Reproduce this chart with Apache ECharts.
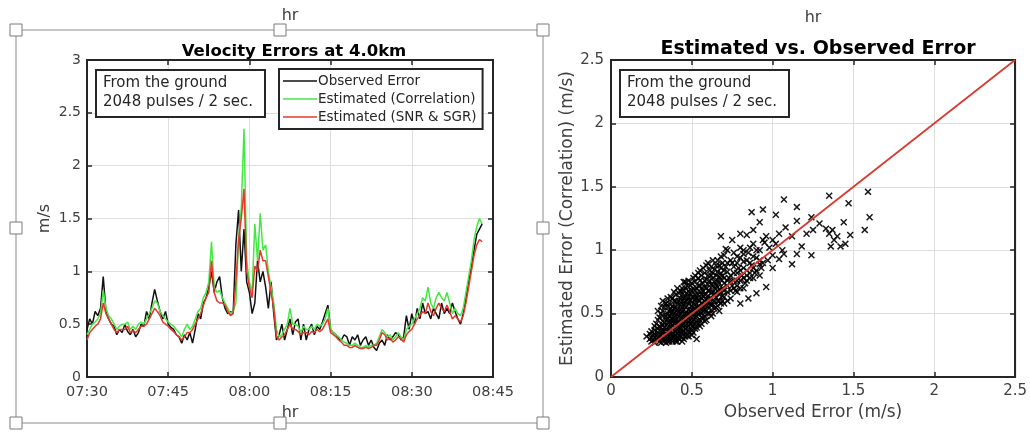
<!DOCTYPE html>
<html>
<head>
<meta charset="utf-8">
<title>Velocity Errors</title>
<script src="https://cdn.jsdelivr.net/npm/echarts@6/dist/echarts.min.js"></script>
<style>
  html, body { margin: 0; padding: 0; background: #fff; }
  #chart { width: 1030px; height: 432px; }
</style>
</head>
<body>
<div id="chart"></div>
<script>
// time labels for the left plot (minutes after 07:30, every 15)
var timeLabels = ["07:30", "07:45", "08:00", "08:15", "08:30", "08:45"];
var sampleStep = 0.5; // minutes between samples

// left plot: velocity error series (m/s), one value per half minute from 07:30
var observedError = [
  0.45, 0.55, 0.5, 0.62, 0.58, 0.65, 0.95, 0.62, 0.55, 0.5,
  0.48, 0.4, 0.45, 0.42, 0.5, 0.43, 0.4, 0.45, 0.38, 0.42,
  0.5, 0.48, 0.62, 0.55, 0.7, 0.83, 0.72, 0.62, 0.55, 0.62,
  0.5, 0.47, 0.45, 0.4, 0.38, 0.32, 0.4, 0.35, 0.42, 0.32,
  0.45, 0.6, 0.55, 0.7, 0.75, 0.85, 1.0, 0.8, 0.9, 0.95,
  0.75, 0.65, 0.6, 0.62, 0.6, 1.25, 1.58, 1.0, 1.4, 0.9,
  0.8, 0.6, 0.7, 1.1, 0.9, 1.0, 0.85, 0.65, 0.9, 0.6,
  0.35, 0.4, 0.5, 0.35, 0.45, 0.55, 0.4, 0.52, 0.55, 0.35,
  0.5, 0.35, 0.45, 0.5, 0.4, 0.48, 0.45, 0.52, 0.6, 0.68,
  0.45, 0.42, 0.4, 0.36, 0.35, 0.4, 0.38, 0.3, 0.38, 0.35,
  0.4, 0.3, 0.35, 0.38, 0.3, 0.35, 0.28, 0.25, 0.32, 0.35,
  0.3, 0.4, 0.35, 0.38, 0.42, 0.4, 0.35, 0.38, 0.58, 0.45,
  0.6, 0.5, 0.65, 0.55, 0.7, 0.6, 0.62, 0.55, 0.65, 0.6,
  0.55, 0.7, 0.6, 0.65, 0.6, 0.7, 0.62, 0.55, 0.5, 0.6,
  0.75, 0.9, 1.05, 1.2, 1.35, 1.4, 1.45
];
var estimatedCorr = [
  0.4, 0.45, 0.5, 0.52, 0.55, 0.6, 0.82, 0.65, 0.58, 0.55,
  0.5, 0.45, 0.48, 0.5, 0.5, 0.52, 0.45, 0.48, 0.45, 0.5,
  0.52, 0.5, 0.55, 0.6, 0.65, 0.72, 0.7, 0.62, 0.58, 0.55,
  0.52, 0.5, 0.48, 0.45, 0.42, 0.38, 0.45, 0.5, 0.45, 0.48,
  0.55, 0.62, 0.65, 0.75, 0.8, 0.9, 1.28, 0.85, 0.8, 0.82,
  0.75, 0.7, 0.65, 0.6, 0.62, 0.7, 1.3, 1.6, 2.35, 1.1,
  0.9, 0.8, 1.45, 1.1, 1.55, 1.2, 1.25, 1.0, 0.85, 0.7,
  0.45, 0.38, 0.4, 0.45, 0.5, 0.65, 0.5, 0.5, 0.48, 0.42,
  0.48, 0.45, 0.45, 0.48, 0.45, 0.5, 0.48, 0.5, 0.55, 0.65,
  0.45, 0.42, 0.4, 0.38, 0.35, 0.33, 0.32, 0.3, 0.3, 0.32,
  0.3, 0.28, 0.28, 0.3, 0.28, 0.3, 0.3, 0.32, 0.38, 0.45,
  0.42, 0.38, 0.4, 0.35, 0.38, 0.42, 0.38, 0.35, 0.45, 0.48,
  0.5, 0.55, 0.6, 0.65, 0.75, 0.72, 0.85, 0.7, 0.65, 0.75,
  0.8, 0.75, 0.72, 0.8, 0.7, 0.6, 0.65, 0.6, 0.58, 0.65,
  0.8, 0.95, 1.1, 1.3, 1.42, 1.5, 1.45
];
var estimatedSnr = [
  0.35, 0.42, 0.45, 0.48, 0.5, 0.55, 0.7, 0.6, 0.55, 0.5,
  0.45, 0.42, 0.45, 0.45, 0.45, 0.48, 0.42, 0.44, 0.42, 0.45,
  0.48, 0.48, 0.5, 0.55, 0.6, 0.65, 0.62, 0.58, 0.52, 0.5,
  0.48, 0.45, 0.43, 0.4, 0.38, 0.35, 0.38, 0.42, 0.42, 0.45,
  0.5, 0.55, 0.6, 0.68, 0.75, 0.8, 1.1, 0.8, 0.72, 0.7,
  0.7, 0.68, 0.62, 0.58, 0.6, 0.9, 1.3, 1.5, 1.78, 1.0,
  0.85, 0.75, 1.05, 1.0, 1.2, 1.1, 1.1, 0.95, 0.8, 0.65,
  0.38, 0.35, 0.38, 0.4, 0.45, 0.5, 0.45, 0.45, 0.43, 0.4,
  0.42, 0.42, 0.4, 0.43, 0.42, 0.45, 0.43, 0.45, 0.5, 0.55,
  0.42, 0.4, 0.38, 0.35, 0.33, 0.3, 0.3, 0.28, 0.28, 0.3,
  0.28, 0.27, 0.27, 0.28, 0.27, 0.28, 0.3, 0.3, 0.35, 0.42,
  0.4, 0.35, 0.37, 0.33, 0.35, 0.38, 0.36, 0.33, 0.4, 0.43,
  0.45, 0.5, 0.55, 0.58, 0.62, 0.6, 0.7, 0.62, 0.58, 0.65,
  0.7, 0.65, 0.62, 0.68, 0.62, 0.55, 0.58, 0.55, 0.52, 0.58,
  0.7, 0.85, 1.0, 1.15, 1.25, 1.3, 1.28
];

// right plot: observed error vs estimated error (correlation), [x, y]
var scatterPoints = [
  [0.22,0.32],[0.24,0.30],[0.24,0.34],[0.26,0.29],[0.26,0.33],[0.27,0.37],[0.28,0.30],[0.28,0.42],
  [0.29,0.35],[0.30,0.28],[0.30,0.32],[0.30,0.40],[0.30,0.47],[0.31,0.36],[0.32,0.29],[0.32,0.44],
  [0.32,0.52],[0.33,0.33],[0.33,0.39],[0.34,0.27],[0.34,0.48],[0.34,0.58],[0.35,0.31],[0.35,0.36],
  [0.35,0.43],[0.36,0.28],[0.36,0.40],[0.36,0.52],[0.37,0.34],[0.37,0.46],[0.38,0.30],[0.38,0.38],
  [0.38,0.56],[0.38,0.62],[0.39,0.42],[0.39,0.50],[0.40,0.28],[0.40,0.33],[0.40,0.45],[0.40,0.60],
  [0.41,0.37],[0.41,0.53],[0.42,0.30],[0.42,0.41],[0.42,0.48],[0.42,0.66],[0.43,0.35],[0.43,0.57],
  [0.44,0.28],[0.44,0.44],[0.44,0.51],[0.44,0.70],[0.45,0.39],[0.45,0.62],[0.46,0.32],[0.46,0.47],
  [0.46,0.55],[0.46,0.75],[0.47,0.42],[0.47,0.66],[0.48,0.36],[0.48,0.50],[0.48,0.58],[0.49,0.45],
  [0.49,0.72],[0.50,0.33],[0.50,0.40],[0.50,0.53],[0.50,0.63],[0.51,0.48],[0.51,0.78],[0.52,0.38],
  [0.52,0.57],[0.52,0.68],[0.53,0.44],[0.53,0.51],[0.54,0.61],[0.54,0.82],[0.55,0.40],[0.55,0.55],
  [0.55,0.72],[0.56,0.47],[0.56,0.65],[0.57,0.52],[0.57,0.86],[0.58,0.44],[0.58,0.60],[0.58,0.76],
  [0.59,0.56],[0.60,0.50],[0.60,0.68],[0.60,0.90],[0.61,0.62],[0.62,0.48],[0.62,0.57],[0.62,0.80],
  [0.63,0.72],[0.64,0.54],[0.64,0.65],[0.65,0.88],[0.66,0.60],[0.66,0.76],[0.67,0.52],[0.67,0.69],
  [0.68,0.82],[0.68,0.95],[0.69,0.64],[0.70,0.58],[0.70,0.74],[0.71,0.87],[0.72,0.67],[0.72,1.00],
  [0.73,0.78],[0.74,0.62],[0.75,0.72],[0.75,0.90],[0.76,0.82],[0.77,0.68],[0.78,0.95],[0.78,0.76],
  [0.79,0.86],[0.80,0.70],[0.80,1.02],[0.81,0.80],[0.82,0.91],[0.83,0.74],[0.84,0.84],[0.85,0.98],
  [0.86,0.78],[0.87,0.88],[0.88,1.05],[0.89,0.82],[0.90,0.94],[0.92,1.00],[0.93,0.86],[0.95,1.06],
  [0.97,0.92],[0.98,1.02],[1.00,0.96],[1.02,1.05],[1.04,0.93],[1.06,1.00],
  // sparse points away from the cloud
  [0.87,1.30],[0.94,1.32],[0.92,1.22],[1.02,1.28],[1.07,1.40],[1.15,1.34],[1.15,1.23],[1.24,1.26],
  [1.35,1.43],[1.47,1.37],[1.59,1.46],[1.60,1.26],[1.57,1.16],[1.44,1.22],[1.48,1.12],[1.35,1.13],
  [1.38,1.08],[1.36,1.03],[1.42,1.03],[1.45,1.05],[1.29,1.21],[1.24,0.96],[1.08,1.18],[1.12,1.11],
  [1.18,1.03],[1.15,0.97],[1.12,0.89],[1.07,0.97],[1.00,1.08],[0.96,1.11],[1.04,1.13],[0.88,1.16],
  [0.80,1.13],[0.84,1.12],[0.68,1.11],[0.75,1.08],[0.71,1.01],[0.82,0.97],[0.92,0.89],[0.96,0.71],
  [0.90,0.66],[0.80,0.58],[0.85,0.62],[1.00,0.86],[1.21,1.13],[1.25,1.16],[1.33,1.17],[1.37,1.16],
  [1.40,1.11],[0.45,0.75],[0.34,0.58],[0.53,0.30]
];
// extra points in the dense core, grouped by observed error: [x, [y, y, ...]]
var coreColumns = [
  [0.25, [0.28, 0.31, 0.36]],
  [0.27, [0.27, 0.31, 0.34, 0.40]],
  [0.29, [0.31, 0.38, 0.45, 0.52]],
  [0.31, [0.27, 0.33, 0.39, 0.50, 0.56]],
  [0.32, [0.31, 0.36, 0.41, 0.48, 0.60]],
  [0.33, [0.28, 0.36, 0.43, 0.55]],
  [0.35, [0.28, 0.33, 0.39, 0.46, 0.50, 0.55, 0.62]],
  [0.36, [0.30, 0.36, 0.43, 0.48, 0.58]],
  [0.37, [0.31, 0.36, 0.42, 0.50, 0.54, 0.63]],
  [0.38, [0.28, 0.32, 0.41, 0.46, 0.51]],
  [0.39, [0.32, 0.39, 0.45, 0.54, 0.60, 0.67]],
  [0.40, [0.30, 0.36, 0.43, 0.48, 0.55, 0.65]],
  [0.41, [0.28, 0.34, 0.40, 0.49, 0.58, 0.70]],
  [0.42, [0.33, 0.39, 0.44, 0.52, 0.60]],
  [0.43, [0.32, 0.38, 0.42, 0.50, 0.53, 0.62, 0.68]],
  [0.44, [0.31, 0.35, 0.41, 0.47, 0.55, 0.60, 0.65]],
  [0.45, [0.30, 0.36, 0.42, 0.46, 0.53, 0.57, 0.68]],
  [0.46, [0.35, 0.38, 0.44, 0.50, 0.59, 0.64, 0.70]],
  [0.47, [0.33, 0.39, 0.45, 0.49, 0.56, 0.61, 0.72]],
  [0.48, [0.32, 0.40, 0.47, 0.53, 0.63, 0.68, 0.76]],
  [0.49, [0.35, 0.42, 0.48, 0.52, 0.60, 0.66]],
  [0.50, [0.37, 0.43, 0.50, 0.56, 0.59, 0.68, 0.74]],
  [0.51, [0.35, 0.40, 0.45, 0.52, 0.58, 0.63, 0.70]],
  [0.52, [0.42, 0.47, 0.54, 0.61, 0.65, 0.75, 0.80]],
  [0.53, [0.39, 0.48, 0.55, 0.62, 0.70]],
  [0.54, [0.42, 0.50, 0.56, 0.65, 0.72, 0.78]],
  [0.55, [0.45, 0.51, 0.60, 0.67, 0.76, 0.84]],
  [0.56, [0.42, 0.50, 0.58, 0.62, 0.70, 0.80]],
  [0.57, [0.46, 0.55, 0.64, 0.68, 0.74]],
  [0.58, [0.48, 0.53, 0.57, 0.65, 0.71, 0.82]],
  [0.59, [0.45, 0.52, 0.61, 0.70, 0.77, 0.88]],
  [0.60, [0.55, 0.59, 0.64, 0.73, 0.80]],
  [0.61, [0.50, 0.58, 0.68, 0.76, 0.84]],
  [0.62, [0.53, 0.62, 0.66, 0.73, 0.87]],
  [0.63, [0.50, 0.57, 0.67, 0.78, 0.82, 0.92]],
  [0.64, [0.60, 0.70, 0.75, 0.85]],
  [0.65, [0.55, 0.63, 0.66, 0.73, 0.80]],
  [0.66, [0.56, 0.68, 0.71, 0.83, 0.92]],
  [0.67, [0.60, 0.65, 0.74, 0.79, 0.88]],
  [0.68, [0.58, 0.67, 0.77, 0.86]],
  [0.69, [0.60, 0.70, 0.80, 0.90]],
  [0.70, [0.63, 0.68, 0.78, 0.84, 0.96]],
  [0.72, [0.60, 0.72, 0.76, 0.83, 0.90]],
  [0.74, [0.68, 0.75, 0.80, 0.92]],
  [0.76, [0.70, 0.76, 0.87, 0.98]],
  [0.78, [0.67, 0.72, 0.82, 0.90]],
  [0.80, [0.76, 0.84, 0.94]],
  [0.82, [0.70, 0.78, 0.86, 1.00]],
  [0.84, [0.76, 0.80, 0.92]],
  [0.86, [0.82, 0.90, 1.02]],
  [0.88, [0.78, 0.86, 0.95]],
  [0.90, [0.84, 1.00]],
  [0.92, [0.80, 0.92]],
  [0.94, [0.90, 1.08]]
];
var oneToOne = [0, 2.5];

var names = ["Observed Error", "Estimated (Correlation)", "Estimated (SNR & SGR)"];
var colors = ["#111111", "#44e844", "#e4392c"];
var boxText = "From the ground\n2048 pulses / 2 sec.";

function pairs(values) {
  var out = [];
  for (var i = 0; i < values.length; i++) {
    out.push([i * sampleStep, values[i]]);
  }
  return out;
}

var allPoints = scatterPoints.slice();
coreColumns.forEach(function (c) {
  c[1].forEach(function (y) { allPoints.push([c[0], y]); });
});

var font = "DejaVu Sans";
var ink = "#262626";
var labelColor = "#404040";

// one axis in matlab style: inside ticks, no zero crossing, light grid
function axis(extra) {
  var base = {
    type: "value",
    axisLine: { show: true, onZero: false, lineStyle: { color: ink, width: 2 } },
    axisTick: { show: true, inside: true, length: 5, lineStyle: { color: ink, width: 1.5 } },
    axisLabel: { color: labelColor, fontFamily: font, fontSize: 14, margin: 6 },
    splitLine: { show: false },
    nameTextStyle: { color: labelColor, fontFamily: font, fontSize: 16 }
  };
  for (var k in extra) base[k] = extra[k];
  return base;
}

function merge(a, b) {
  var o = {};
  for (var k in a) o[k] = a[k];
  for (var j in b) o[j] = b[j];
  return o;
}

var grid0 = { left: 87, right: 537, top: 60, bottom: 55 };
var grid1 = { left: 611, right: 13, top: 60, bottom: 55 };
var gridLine = { show: true, lineStyle: { color: "#dedede", width: 1 } };

var xMin = { min: 0, max: 75, interval: 15 };
var yLeft = { min: 0, max: 3, interval: 0.5 };
var sq = { min: 0, max: 2.5, interval: 0.5 };
var bigLabel = { color: labelColor, fontFamily: font, fontSize: 15, margin: 7 };
var bigName = { color: labelColor, fontFamily: font, fontSize: 17 };

// selection handles drawn around the left figure
var handlePos = [[16, 30], [280, 30], [543, 30], [16, 228], [543, 228], [16, 423], [280, 423], [543, 423]];
var graphics = [
  { type: "rect", shape: { x: 16, y: 30, width: 527, height: 393 }, style: { fill: "none", stroke: "#8c8c8c", lineWidth: 1 }, z: 1 }
];
handlePos.forEach(function (p) {
  graphics.push({ type: "rect", shape: { x: p[0] - 6, y: p[1] - 6, width: 12, height: 12 }, style: { fill: "#fff", stroke: "#7a7a7a", lineWidth: 1 }, z: 100 });
});
// annotation boxes
[[96, 70], [620, 70]].forEach(function (p) {
  graphics.push({ type: "rect", shape: { x: p[0], y: p[1], width: 169, height: 47 }, style: { fill: "#fff", stroke: ink, lineWidth: 2 }, z: 50 });
  graphics.push({ type: "text", x: p[0] + 7, y: p[1] + 4, style: { text: boxText, font: "15px " + font, fill: ink, lineHeight: 19 }, z: 51 });
});

var chart = echarts.init(document.getElementById("chart"));
chart.setOption({
  backgroundColor: "#fff",
  animation: false,
  title: [
    { text: "Velocity Errors at 4.0km", left: 289, top: 38, textAlign: "center",
      textStyle: { fontFamily: font, fontWeight: "bold", fontSize: 16.5, color: "#000" } },
    { text: "Estimated vs. Observed Error", left: 813, top: 35, textAlign: "center",
      textStyle: { fontFamily: font, fontWeight: "bold", fontSize: 19, color: "#000" } }
  ],
  legend: {
    data: names,
    orient: "vertical",
    left: 279,
    top: 69,
    padding: [5, 6, 5, 4],
    itemGap: 4,
    itemWidth: 34,
    itemHeight: 1.5,
    icon: "rect",
    backgroundColor: "#fff",
    borderColor: ink,
    borderWidth: 2,
    textStyle: { fontFamily: font, fontSize: 13.5, color: ink, padding: [0, 0, 0, -4] },
    z: 60
  },
  grid: [
    merge(grid0, { show: true, borderColor: ink, borderWidth: 2 }),
    merge(grid1, { show: true, borderColor: ink, borderWidth: 2 })
  ],
  xAxis: [
    axis(merge(xMin, { gridIndex: 0, position: "bottom", name: "hr", nameLocation: "middle", nameGap: 28,
      splitLine: gridLine,
      axisLabel: { color: labelColor, fontFamily: font, fontSize: 14.5, margin: 8,
        formatter: function (v) { return timeLabels[Math.round(v / 15)]; } } })),
    axis(merge(xMin, { gridIndex: 0, position: "top", name: "hr", nameLocation: "middle", nameGap: 36,
      axisLabel: { show: false } })),
    axis(merge(sq, { gridIndex: 1, position: "bottom", name: "Observed Error (m/s)", nameLocation: "middle", nameGap: 26,
      splitLine: gridLine, axisLabel: bigLabel, nameTextStyle: bigName })),
    axis(merge(sq, { gridIndex: 1, position: "top", name: "hr", nameLocation: "middle", nameGap: 34,
      axisLabel: { show: false } }))
  ],
  yAxis: [
    axis(merge(yLeft, { gridIndex: 0, position: "left", name: "m/s", nameLocation: "middle", nameGap: 34,
      splitLine: gridLine })),
    axis(merge(yLeft, { gridIndex: 0, position: "right", axisLabel: { show: false } })),
    axis(merge(sq, { gridIndex: 1, position: "left", name: "Estimated Error (Correlation) (m/s)", nameLocation: "middle", nameGap: 34,
      splitLine: gridLine, axisLabel: bigLabel, nameTextStyle: bigName })),
    axis(merge(sq, { gridIndex: 1, position: "right", axisLabel: { show: false } }))
  ],
  series: [
    { name: names[0], type: "line", xAxisIndex: 0, yAxisIndex: 0, data: pairs(observedError),
      symbol: "none", lineStyle: { color: colors[0], width: 1.5 }, itemStyle: { color: colors[0] }, z: 3 },
    { name: names[1], type: "line", xAxisIndex: 0, yAxisIndex: 0, data: pairs(estimatedCorr),
      symbol: "none", lineStyle: { color: colors[1], width: 1.5 }, itemStyle: { color: colors[1] }, z: 4 },
    { name: names[2], type: "line", xAxisIndex: 0, yAxisIndex: 0, data: pairs(estimatedSnr),
      symbol: "none", lineStyle: { color: colors[2], width: 1.5 }, itemStyle: { color: colors[2] }, z: 5 },
    { type: "scatter", xAxisIndex: 2, yAxisIndex: 2, data: allPoints,
      symbol: "path://M0,1.5L1.5,0L5,3.5L8.5,0L10,1.5L6.5,5L10,8.5L8.5,10L5,6.5L1.5,10L0,8.5L3.5,5Z",
      symbolSize: 7, itemStyle: { color: "#000", opacity: 0.9 }, z: 3 },
    { type: "line", xAxisIndex: 2, yAxisIndex: 2, data: [[oneToOne[0], oneToOne[0]], [oneToOne[1], oneToOne[1]]],
      symbol: "none", lineStyle: { color: "#d93a30", width: 1.8 }, z: 5 }
  ],
  graphic: graphics
});
</script>
</body>
</html>
